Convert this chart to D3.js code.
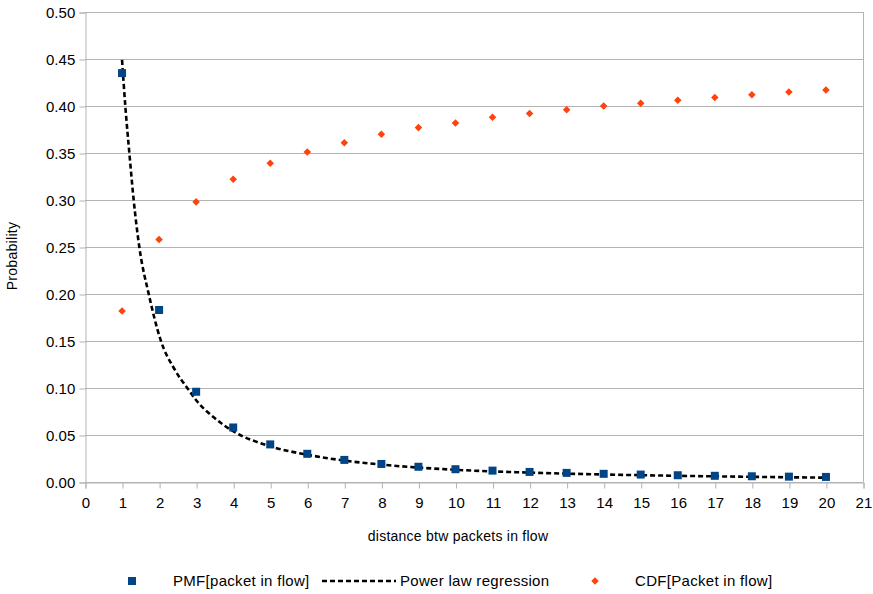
<!DOCTYPE html>
<html><head><meta charset="utf-8">
<script src="https://cdn.jsdelivr.net/npm/d3@7"></script>
<style>
body{margin:0;background:#fff;}
text{font-family:"Liberation Sans",Arial,sans-serif;fill:#000;}
</style></head>
<body>
<svg id="chart" width="873" height="594"></svg>
<script>
// ---- data ----
const distances = [1,2,3,4,5,6,7,8,9,10,11,12,13,14,15,16,17,18,19,20];
const pmfValues = [0.435,0.183,0.096,0.058,0.040,0.030,0.0235,0.0192,0.0162,0.0136,0.0121,0.0107,0.0097,0.0087,0.0079,0.0072,0.0066,0.0061,0.0057,0.0054];
const cdfValues = [0.182,0.258,0.298,0.322,0.339,0.351,0.361,0.370,0.377,0.382,0.388,0.392,0.396,0.400,0.403,0.406,0.409,0.412,0.415,0.417];
// power-law regression curve
const fitX = [1,1.088,1.197,1.314,1.466,1.72,2.05,2.4,2.76,3,3.5,4,5,6,7,8,10,12,14,16,18,20];
const fitY = [0.449,0.40,0.35,0.30,0.25,0.20,0.15,0.121,0.10,0.087,0.068,0.054,0.038,0.029,0.0228,0.0185,0.0130,0.0100,0.0080,0.0066,0.0055,0.0046];
const xTicks = d3.range(0,22);
const yTicks = [0,0.05,0.10,0.15,0.20,0.25,0.30,0.35,0.40,0.45,0.50];
const seriesNames = ["PMF[packet in flow]","Power law regression","CDF[Packet in flow]"];
const xTitle = "distance btw packets in flow";
const yTitle = "Probability";

// ---- layout ----
const L=85,R=863,T=12,B=482;
const FS=15;
const grid="#b3b3b3";
const blue="#004586", orange="#ff420e";
const svg=d3.select("#chart");
const x=d3.scaleLinear().domain([0,21]).range([L,R]);
const y=d3.scaleLinear().domain([0,0.5]).range([B,T]);

// gridlines
svg.append("g").selectAll("line").data(yTicks).join("line")
  .attr("x1",L).attr("x2",R).attr("y1",d=>y(d)+0.5).attr("y2",d=>y(d)+0.5)
  .attr("stroke",grid).attr("stroke-width",1);
// right border
svg.append("line").attr("x1",R+0.5).attr("x2",R+0.5).attr("y1",T).attr("y2",B)
  .attr("stroke",grid);

// y axis
const yAxis=svg.append("g").attr("transform",`translate(${L+0.5},0.5)`)
  .call(d3.axisLeft(y).tickValues(yTicks).tickFormat(d3.format(".2f")).tickSize(6).tickPadding(4));
// x axis
const xAxis=svg.append("g").attr("transform",`translate(0.5,${B+0.5})`)
  .call(d3.axisBottom(x).tickValues(xTicks).tickFormat(d3.format("d")).tickSize(6).tickPadding(9));
[yAxis,xAxis].forEach(g=>{
  g.select(".domain").attr("stroke",grid);
  g.selectAll(".tick line").attr("stroke",grid);
  g.selectAll("text").attr("font-size",FS).attr("letter-spacing",0.1)
    .attr("font-family",'"Liberation Sans",Arial,sans-serif').attr("fill","#000");
});

// regression curve
const fitData=fitX.map((v,i)=>[v,fitY[i]]);
svg.append("path").datum(fitData)
  .attr("d",d3.line().x(d=>x(d[0])).y(d=>y(d[1])).curve(d3.curveMonotoneX))
  .attr("fill","none").attr("stroke","#000").attr("stroke-width",2.6).attr("stroke-dasharray","5,3");

// PMF squares
const sq=8;
svg.append("g").selectAll("rect").data(distances).join("rect")
  .attr("x",(d)=>x(d)-sq/2).attr("y",(d,i)=>y(pmfValues[i])-sq/2)
  .attr("width",sq).attr("height",sq).attr("fill",blue);

// CDF diamonds
const diamond=d3.symbol().type(d3.symbolDiamond2).size(36);
svg.append("g").selectAll("path").data(distances).join("path")
  .attr("transform",(d,i)=>`translate(${x(d)},${y(cdfValues[i])})`)
  .attr("d",diamond).attr("fill",orange);

// axis titles
svg.append("text").attr("x",458).attr("y",541).attr("text-anchor","middle")
  .attr("font-size",14).attr("letter-spacing",0.25).text(xTitle);
svg.append("text").attr("transform","translate(17,256) rotate(-90)").attr("text-anchor","middle")
  .attr("font-size",14).attr("letter-spacing",0.3).text(yTitle);

// legend
const ly=581;
svg.append("rect").attr("x",132-sq/2).attr("y",ly-sq/2).attr("width",sq).attr("height",sq).attr("fill",blue);
svg.append("text").attr("x",173).attr("y",ly+5).attr("font-size",FS).attr("letter-spacing",0.3).text(seriesNames[0]);
svg.append("line").attr("x1",322).attr("x2",396).attr("y1",ly).attr("y2",ly)
  .attr("stroke","#000").attr("stroke-width",2.6).attr("stroke-dasharray","5,3");
svg.append("text").attr("x",400).attr("y",ly+5).attr("font-size",FS).attr("letter-spacing",0.3).text(seriesNames[1]);
svg.append("path").attr("transform",`translate(595,${ly})`).attr("d",diamond).attr("fill",orange);
svg.append("text").attr("x",635).attr("y",ly+5).attr("font-size",FS).attr("letter-spacing",0.3).text(seriesNames[2]);
</script>
</body></html>
